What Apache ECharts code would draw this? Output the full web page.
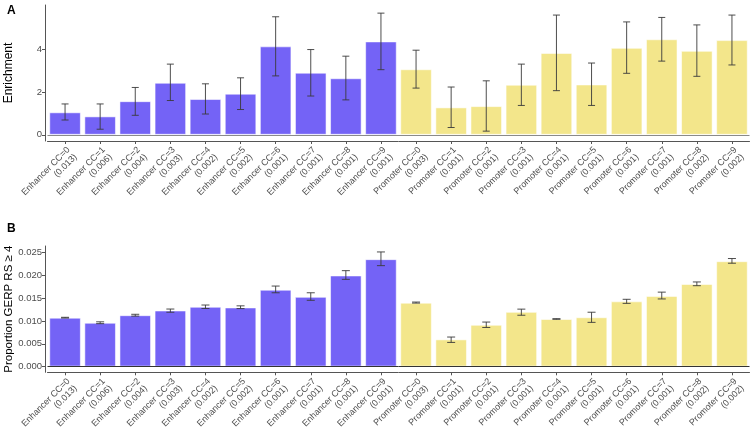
<!DOCTYPE html>
<html><head><meta charset="utf-8">
<script src="https://cdn.jsdelivr.net/npm/echarts@6/dist/echarts.min.js"></script>
<style>html,body{margin:0;padding:0;background:#fff}#c{width:756px;height:432px}</style>
</head><body><div id="c"></div>
<script>
const categories = [
 'Enhancer CC=0\n(0.013)','Enhancer CC=1\n(0.006)','Enhancer CC=2\n(0.004)','Enhancer CC=3\n(0.003)','Enhancer CC=4\n(0.002)',
 'Enhancer CC=5\n(0.002)','Enhancer CC=6\n(0.001)','Enhancer CC=7\n(0.001)','Enhancer CC=8\n(0.001)','Enhancer CC=9\n(0.001)',
 'Promoter CC=0\n(0.003)','Promoter CC=1\n(0.001)','Promoter CC=2\n(0.001)','Promoter CC=3\n(0.001)','Promoter CC=4\n(0.001)',
 'Promoter CC=5\n(0.001)','Promoter CC=6\n(0.001)','Promoter CC=7\n(0.001)','Promoter CC=8\n(0.002)','Promoter CC=9\n(0.002)'];
const groups = ['Enhancer','Enhancer','Enhancer','Enhancer','Enhancer','Enhancer','Enhancer','Enhancer','Enhancer','Enhancer',
 'Promoter','Promoter','Promoter','Promoter','Promoter','Promoter','Promoter','Promoter','Promoter','Promoter'];
const enrichment = [1.05,0.86,1.57,2.43,1.67,1.92,4.13,2.90,2.64,4.36, 3.06,1.28,1.34,2.34,3.82,2.35,4.06,4.46,3.92,4.42];
const enrichLo   = [0.69,0.26,0.91,1.60,0.97,1.18,2.75,1.81,1.63,3.04, 2.18,0.34,0.17,1.37,2.06,1.37,2.87,3.44,2.73,3.26];
const enrichHi   = [1.44,1.44,2.21,3.30,2.38,2.66,5.51,3.98,3.67,5.68, 3.95,2.23,2.52,3.30,5.59,3.35,5.27,5.48,5.13,5.59];
const gerp   = [0.01071,0.0096,0.01125,0.01228,0.0131,0.01295,0.01683,0.01527,0.01995,0.02352, 0.0140,0.00596,0.00915,0.01198,0.01042,0.0108,0.01429,0.01548,0.01808,0.02307];
const gerpLo = [0.01063,0.0094,0.01105,0.0119,0.01272,0.0127,0.01616,0.01451,0.0191,0.0221, 0.0139,0.00529,0.00856,0.01124,0.01035,0.00968,0.01384,0.01481,0.01771,0.02263];
const gerpHi = [0.01079,0.0098,0.01145,0.0126,0.01348,0.0133,0.01763,0.01616,0.0210,0.0251, 0.01413,0.00647,0.00975,0.01258,0.01049,0.0119,0.01473,0.0163,0.01853,0.02366];
const ticksA = [0,2,4];
const ticksB = [0,0.005,0.010,0.015,0.020,0.025];
const colors = {Enhancer:'#7463F6', Promoter:'#F3E68B'};

const font = 'Liberation Sans, Arial, sans-serif';
const chart = echarts.init(document.getElementById('c'), null, {renderer:'canvas'});

function barData(vals){
  return vals.map((v,i)=>({value:v,itemStyle:{color:colors[groups[i]]}}));
}
function errSeries(idx, lo, hi, cap){
  return {
    type:'custom', xAxisIndex:idx, yAxisIndex:idx, z:5, silent:true,
    data: lo.map((l,i)=>[i,l,hi[i]]),
    renderItem:function(params, api){
      const a = api.coord([api.value(0), api.value(1)]);
      const b = api.coord([api.value(0), api.value(2)]);
      const x = a[0];
      const st = {stroke:'#3a3a3a', lineWidth:0.9};
      return {type:'group', children:[
        {type:'line', shape:{x1:x,y1:a[1],x2:x,y2:b[1]}, style:st},
        {type:'line', shape:{x1:x-cap,y1:a[1],x2:x+cap,y2:a[1]}, style:st},
        {type:'line', shape:{x1:x-cap,y1:b[1],x2:x+cap,y2:b[1]}, style:st}
      ]};
    }
  };
}
function xAx(idx){
  return {
    type:'category', gridIndex:idx, data:categories, boundaryGap:true,
    axisLine:{show:true, onZero:false, lineStyle:{color:'#555', width:1}},
    axisTick:{show:true, alignWithLabel:true, length:3, lineStyle:{color:'#555'}},
    axisLabel:{rotate:45, interval:0, fontSize:9, color:'#4d4d4d', fontFamily:font, margin:4, lineHeight:10, align:'right', verticalAlign:'top'},
    splitLine:{show:false}
  };
}
const bandLeft = 47.5, bandW = 702;
chart.setOption({
  animation:false,
  textStyle:{fontFamily:font},
  title:[
    {text:'A', left:2, top:0, textStyle:{fontSize:12, fontWeight:'bold', color:'#000', fontFamily:font}},
    {text:'B', left:2, top:218, textStyle:{fontSize:12, fontWeight:'bold', color:'#000', fontFamily:font}}
  ],
  grid:[
    {left:bandLeft, width:bandW, top:5, height:136, containLabel:false, outerBoundsMode:'none'},
    {left:bandLeft, width:bandW, top:246, height:126.3, containLabel:false, outerBoundsMode:'none'}
  ],
  xAxis:[xAx(0), xAx(1)],
  yAxis:[
    {type:'value', gridIndex:0, min:-0.29, max:6.06, offset:2.5,
     name:'Enrichment', nameLocation:'middle', nameGap:30, nameMoveOverlap:false, nameTextStyle:{fontSize:12, color:'#000', fontFamily:font},
     axisLine:{show:true, lineStyle:{color:'#555'}},
     axisTick:{show:true, length:3, customValues:ticksA, lineStyle:{color:'#555'}},
     axisLabel:{customValues:ticksA, fontSize:9.5, color:'#4d4d4d', margin:3, fontFamily:font},
     splitLine:{show:false}},
    {type:'value', gridIndex:1, min:-0.00125, max:0.0264, offset:2.5,
     name:'Proportion GERP RS \u2265 4', nameLocation:'middle', nameGap:30, nameMoveOverlap:false, nameTextStyle:{fontSize:11.5, color:'#000', fontFamily:font},
     axisLine:{show:true, lineStyle:{color:'#555'}},
     axisTick:{show:true, length:3, customValues:ticksB, lineStyle:{color:'#555'}},
     axisLabel:{customValues:ticksB, fontSize:9.5, color:'#4d4d4d', margin:3, fontFamily:font, formatter:v=>v.toFixed(3)},
     splitLine:{show:false}}
  ],
  series:[
    {type:'bar', xAxisIndex:0, yAxisIndex:0, data:barData(enrichment), barCategoryGap:'10%',
     itemStyle:{borderColor:'rgba(255,255,255,0.55)', borderWidth:1},
     markLine:{silent:true, symbol:'none', label:{show:false}, lineStyle:{color:'#8a8a8a', width:1.2, type:'solid'}, data:[{yAxis:0}]}},
    errSeries(0, enrichLo, enrichHi, 3.5),
    {type:'bar', xAxisIndex:1, yAxisIndex:1, data:barData(gerp), barCategoryGap:'10%',
     itemStyle:{borderColor:'rgba(255,255,255,0.55)', borderWidth:1},
     markLine:{silent:true, symbol:'none', label:{show:false}, lineStyle:{color:'#333', width:1, type:'solid'}, data:[{yAxis:0}]}},
    errSeries(1, gerpLo, gerpHi, 4)
  ]
});
</script></body></html>
